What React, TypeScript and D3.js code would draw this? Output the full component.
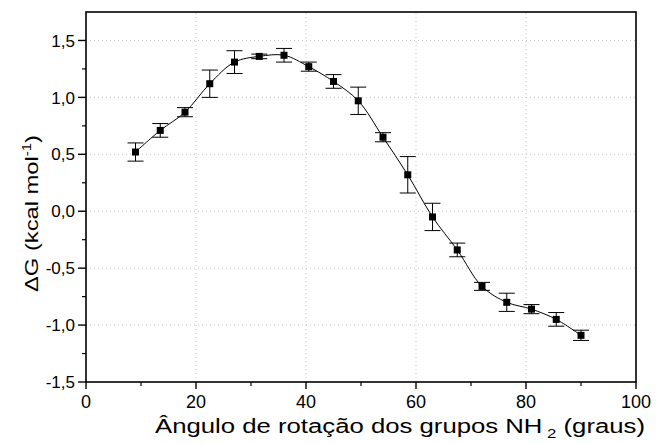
import React from 'react';
import * as d3 from 'd3';

// rotation angle (graus) and ΔG (kcal/mol) with error bars
const angles = [9, 13.5, 18, 22.5, 27, 31.5, 36, 40.5, 45, 49.5, 54, 58.5, 63, 67.5, 72, 76.5, 81, 85.5, 90];
const deltaG = [0.52, 0.71, 0.87, 1.12, 1.31, 1.36, 1.37, 1.27, 1.14, 0.97, 0.65, 0.32, -0.05, -0.34, -0.66, -0.80, -0.86, -0.95, -1.09];
const errors = [0.08, 0.06, 0.04, 0.12, 0.1, 0.02, 0.06, 0.04, 0.06, 0.12, 0.04, 0.16, 0.12, 0.06, 0.035, 0.08, 0.04, 0.06, 0.045];
const xTicks = [0, 20, 40, 60, 80, 100];
const xMinor = [10, 30, 50, 70, 90];
const yTicks = [-1.5, -1.0, -0.5, 0.0, 0.5, 1.0, 1.5];
const yMinor = [-1.25, -0.75, -0.25, 0.25, 0.75, 1.25];

const width = 656;
const height = 443;
const margin = { top: 12, right: 20, bottom: 61, left: 86 };
const font = '"Liberation Sans", Arial, sans-serif';

export default function App() {
  const x = d3.scaleLinear().domain([0, 100]).range([margin.left, width - margin.right]);
  const y = d3.scaleLinear().domain([-1.5, 1.75]).range([height - margin.bottom, margin.top]);
  const fmt = (v: number) => v.toFixed(1).replace('.', ',');

  const pts = angles.map((a, i) => [a, deltaG[i]] as [number, number]);
  const line = d3.line<[number, number]>()
    .x(d => x(d[0]))
    .y(d => y(d[1]))
    .curve(d3.curveCatmullRom.alpha(0.5));

  const x0 = x.range()[0], x1 = x.range()[1];
  const y0 = y.range()[0], y1 = y.range()[1];

  return (
    <svg width={width} height={height} style={{ position: 'absolute', left: 0, top: 0 }} fontFamily={font}>
      <rect width={width} height={height} fill="#fff" />
      {/* grid */}
      {xTicks.filter(t => t > 0 && t < 100).map(t => (
        <line key={'gx' + t} x1={x(t)} x2={x(t)} y1={y0} y2={y1} stroke="#c8c8c8" strokeWidth={1} strokeDasharray="1,3" />
      ))}
      {yTicks.filter(t => t > -1.5).map(t => (
        <line key={'gy' + t} x1={x0} x2={x1} y1={y(t)} y2={y(t)} stroke="#c8c8c8" strokeWidth={1} strokeDasharray="1,3" />
      ))}

      {/* curve */}
      <path d={line(pts) || ''} fill="none" stroke="#000" strokeWidth={1} />

      {/* error bars */}
      {pts.map((d, i) => (
        <g key={'e' + i} stroke="#000" strokeWidth={1}>
          <line x1={x(d[0])} x2={x(d[0])} y1={y(d[1] + errors[i])} y2={y(d[1] - errors[i])} />
          <line x1={x(d[0]) - 8} x2={x(d[0]) + 8} y1={y(d[1] + errors[i])} y2={y(d[1] + errors[i])} />
          <line x1={x(d[0]) - 8} x2={x(d[0]) + 8} y1={y(d[1] - errors[i])} y2={y(d[1] - errors[i])} />
        </g>
      ))}
      {pts.map((d, i) => (
        <rect key={'p' + i} x={x(d[0]) - 3.5} y={y(d[1]) - 3.5} width={7} height={7} fill="#000" />
      ))}

      {/* frame */}
      <rect x={x0} y={y1} width={x1 - x0} height={y0 - y1} fill="none" stroke="#000" strokeWidth={1.6} />

      {/* x ticks */}
      {xTicks.map(t => (
        <g key={'xt' + t}>
          <line x1={x(t)} x2={x(t)} y1={y0} y2={y0 + 7} stroke="#000" strokeWidth={1.4} />
          <text x={x(t)} y={y0 + 26} fontSize={18} textAnchor="middle">{t}</text>
        </g>
      ))}
      {xMinor.map(t => (
        <line key={'xm' + t} x1={x(t)} x2={x(t)} y1={y0} y2={y0 + 4} stroke="#000" strokeWidth={1.2} />
      ))}

      {/* y ticks */}
      {yTicks.map(t => (
        <g key={'yt' + t}>
          <line x1={x0 - 8} x2={x0} y1={y(t)} y2={y(t)} stroke="#000" strokeWidth={1.4} />
          <text x={x0 - 11} y={y(t)} dy="0.36em" fontSize={17} textAnchor="end">{fmt(t)}</text>
        </g>
      ))}
      {yMinor.map(t => (
        <line key={'ym' + t} x1={x0 - 4} x2={x0} y1={y(t)} y2={y(t)} stroke="#000" strokeWidth={1.2} />
      ))}

      {/* axis titles */}
      <text x={155} y={433} fontSize={20} textLength={490} lengthAdjust="spacingAndGlyphs">
        Ângulo de rotação dos grupos NH<tspan fontSize={13} dy={5}> 2</tspan><tspan dy={-5}> (graus)</tspan>
      </text>
      <text transform={`translate(38,292) rotate(-90)`} fontSize={19} textLength={157} lengthAdjust="spacingAndGlyphs">
        ΔG (kcal mol<tspan fontSize={12} dy={-7}>-1</tspan><tspan dy={7}>)</tspan>
      </text>
    </svg>
  );
}
